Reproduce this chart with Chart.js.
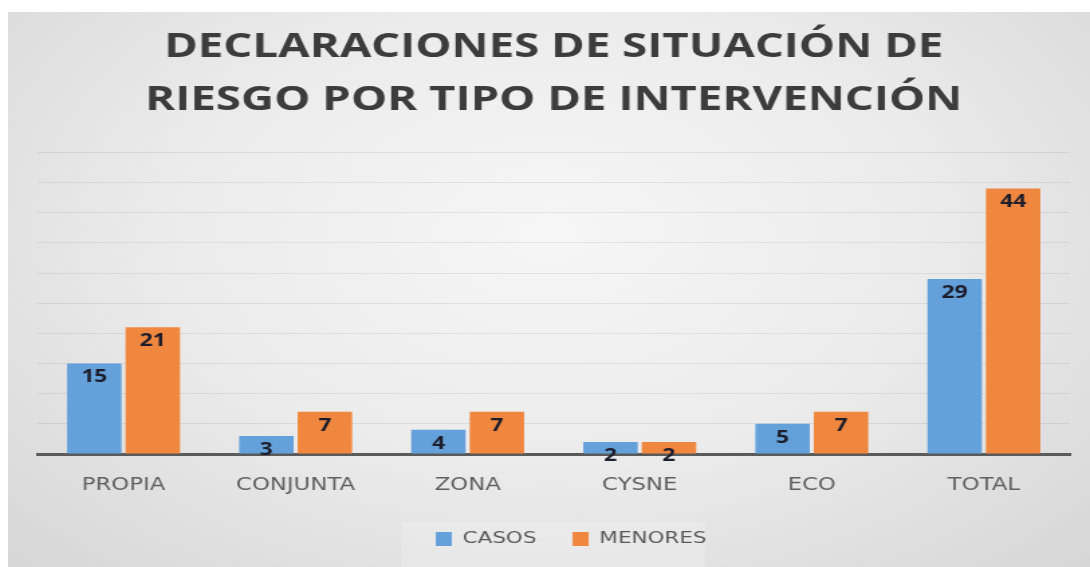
<!DOCTYPE html>
<html>
<head>
<meta charset="utf-8">
<script src="https://cdn.jsdelivr.net/npm/chart.js@4.4.0/dist/chart.umd.min.js"></script>
<style>
  html, body { margin: 0; padding: 0; background: #fff; }
  #frame {
    position: absolute; left: 8px; top: 12px; width: 1082px; height: 555px; overflow: hidden;
    background: radial-gradient(ellipse at 50% 40%, #f6f6f6 0%, #ebebeb 50%, #d6d6d6 100%);
  }
  #legendBg {
    position: absolute; left: 394px; top: 510px; width: 303px; height: 45px;
    background: rgba(255,255,255,0.18);
  }
  /* the source picture is stretched sideways, so the chart is too */
  #stretch {
    position: absolute; left: 0; top: 0; width: 807px; height: 555px;
    transform: scaleX(1.3408); transform-origin: 0 0;
  }
</style>
</head>
<body>
<div id="frame">
  <div id="legendBg"></div>
  <div id="stretch"><canvas id="chart" width="807" height="555"></canvas></div>
</div>
<script>
// data
const categories = ['PROPIA', 'CONJUNTA', 'ZONA', 'CYSNE', 'ECO', 'TOTAL'];
const casos = [15, 3, 4, 2, 5, 29];
const menores = [21, 7, 7, 2, 7, 44];
const titleLines = ['DECLARACIONES DE SITUACIÓN DE', 'RIESGO POR TIPO DE INTERVENCIÓN'];

// value labels inside the top of each bar
const barLabels = {
  id: 'barLabels',
  afterDatasetsDraw(chart) {
    const ctx = chart.ctx;
    ctx.save();
    ctx.font = 'bold 17px "Open Sans", sans-serif';
    ctx.fillStyle = '#1d1d2b';
    ctx.textAlign = 'center';
    ctx.textBaseline = 'middle';
    chart.data.datasets.forEach((ds, i) => {
      chart.getDatasetMeta(i).data.forEach((bar, j) => {
        ctx.fillText(ds.data[j], bar.x, bar.y + 14);
      });
    });
    ctx.restore();
  }
};

// legend sits a little right of centre in the original
const legendShift = {
  id: 'legendShift',
  afterLayout(chart) {
    chart.legend.left += 13;
    chart.legend.right += 13;
  }
};

new Chart(document.getElementById('chart'), {
  type: 'bar',
  data: {
    labels: categories,
    datasets: [
      { label: 'CASOS', data: casos, backgroundColor: '#64a1da' },
      { label: 'MENORES', data: menores, backgroundColor: '#f0873e' }
    ]
  },
  options: {
    responsive: false,
    animation: false,
    layout: { padding: { left: 22, right: 15, bottom: 10, top: 0 } },
    datasets: { bar: { categoryPercentage: 0.68, barPercentage: 0.93 } },
    plugins: {
      title: {
        display: true,
        text: titleLines,
        color: '#3c3c3c',
        font: { family: '"Open Sans", sans-serif', size: 34, weight: 'bold', lineHeight: 1.55 },
        padding: { top: 9, bottom: 26 }
      },
      legend: {
        position: 'bottom',
        labels: {
          color: '#595959',
          font: { family: '"DejaVu Sans", sans-serif', size: 16 },
          boxWidth: 12, boxHeight: 14, padding: 27
        }
      },
      tooltip: { enabled: false }
    },
    scales: {
      x: {
        grid: { display: false },
        border: { color: '#5a5a5a', width: 3 },
        ticks: { color: '#5f5f5f', font: { family: '"DejaVu Sans", sans-serif', size: 17 }, padding: 13 },
        afterFit(s) { s.height = 50; }
      },
      y: {
        min: 0, max: 50,
        ticks: { display: false, stepSize: 5 },
        border: { display: false },
        grid: { color: 'rgba(0,0,0,0.07)', drawTicks: false }
      }
    }
  },
  plugins: [barLabels, legendShift]
});
</script>
</body>
</html>
